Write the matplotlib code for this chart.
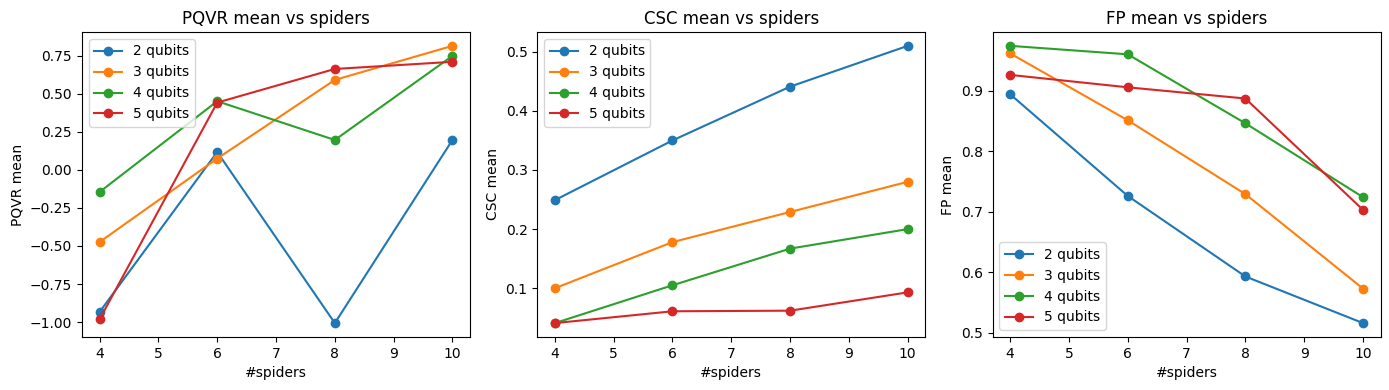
import matplotlib
matplotlib.use('Agg')
import matplotlib.pyplot as plt

spiders = [4, 6, 8, 10]
labels = ['2 qubits', '3 qubits', '4 qubits', '5 qubits']

pqvr = [
    [-0.934, 0.118, -1.007, 0.197],
    [-0.474, 0.075, 0.592, 0.816],
    [-0.145, 0.452, 0.197, 0.750],
    [-0.982, 0.443, 0.664, 0.711],
]
csc = [
    [0.249, 0.350, 0.441, 0.510],
    [0.100, 0.178, 0.229, 0.280],
    [0.041, 0.105, 0.167, 0.200],
    [0.041, 0.061, 0.062, 0.093],
]
fp = [
    [0.894, 0.726, 0.593, 0.516],
    [0.9615, 0.851, 0.729, 0.573],
    [0.974, 0.960, 0.846, 0.724],
    [0.926, 0.9055, 0.887, 0.703],
]

metrics = [('PQVR', pqvr, 'upper left'), ('CSC', csc, 'upper left'), ('FP', fp, 'lower left')]

fig, axes = plt.subplots(1, 3, figsize=(13.89, 3.9), dpi=100)
for ax, (name, data, loc) in zip(axes, metrics):
    for lab, vals in zip(labels, data):
        ax.plot(spiders, vals, 'o-', label=lab)
    ax.set_title(f'{name} mean vs spiders')
    ax.set_xlabel('#spiders')
    ax.set_ylabel(f'{name} mean')
    ax.legend(loc=loc)

plt.subplots_adjust(left=0.059, right=0.994, top=0.918, bottom=0.136, wspace=0.173)
plt.savefig('out.png')
plt.close()
